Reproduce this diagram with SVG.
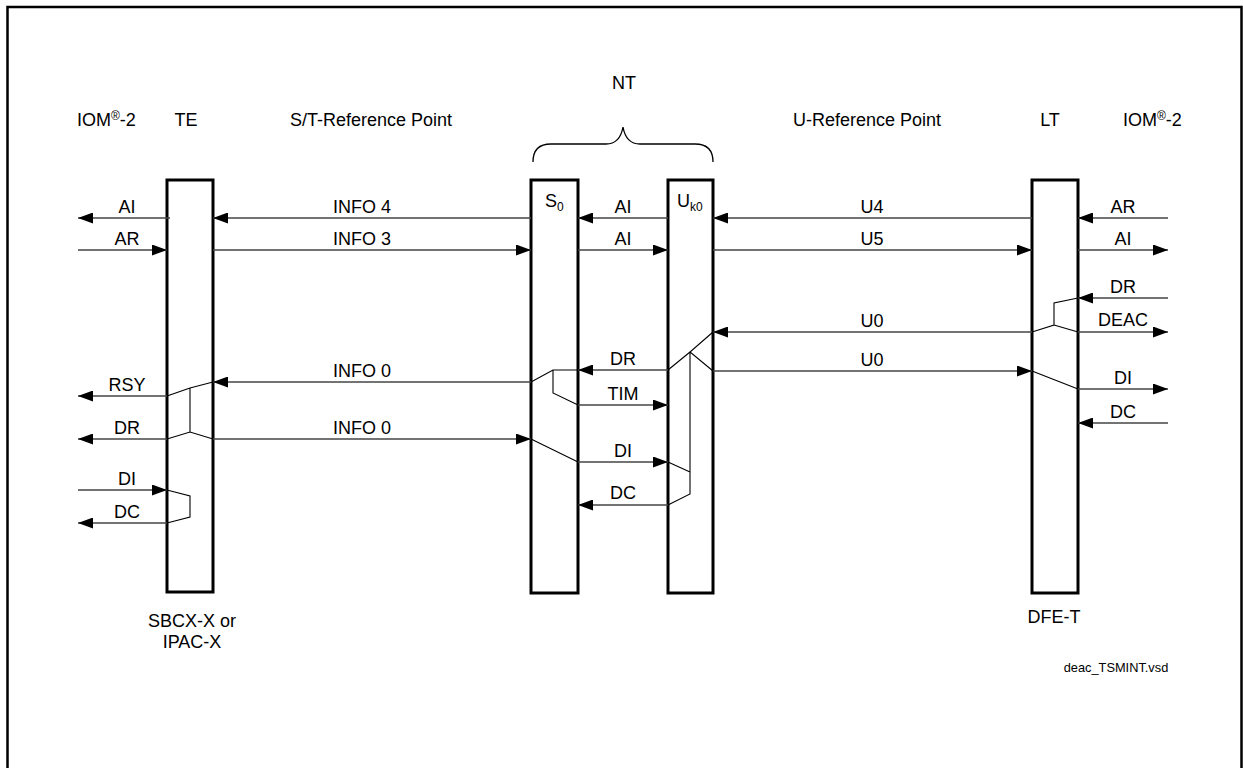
<svg xmlns="http://www.w3.org/2000/svg" width="1243" height="768" viewBox="0 0 1243 768">
<style>
text{font-family:"Liberation Sans",Arial,sans-serif;font-size:18px;fill:#000}
.c{text-anchor:middle}
.box{fill:#fff;stroke:#000;stroke-width:3}
.arr{fill:none;stroke:#444;stroke-width:1.6;marker-end:url(#ah)}
.thin{fill:none;stroke:#000;stroke-width:1.1}
.sub{font-size:12px}
</style>
<defs>
<marker id="ah" markerUnits="userSpaceOnUse" markerWidth="15" markerHeight="11" refX="15" refY="5.5" orient="auto">
<path d="M0,0 L15,5.5 L0,11 z" fill="#000"/>
</marker>
</defs>
<rect x="7.5" y="7" width="1234" height="800" fill="#fff" stroke="#000" stroke-width="2.5"/>
<g id="headers">
<text x="77" y="126">IOM<tspan class="sub" dy="-6">®</tspan><tspan dy="6">-2</tspan></text>
<text x="186" y="126" class="c">TE</text>
<text x="371" y="126" class="c">S/T-Reference Point</text>
<text x="624" y="89" class="c">NT</text>
<text x="867" y="126" class="c">U-Reference Point</text>
<text x="1050" y="126" class="c">LT</text>
<text x="1123" y="126">IOM<tspan class="sub" dy="-6">®</tspan><tspan dy="6">-2</tspan></text>
<path d="M533,162 Q533,144 551,144 H606 Q620,144 623,127 Q626,144 640,144 H695 Q713,144 713,162" fill="none" stroke="#000" stroke-width="1.3"/>
</g>
<g id="TE">
<rect class="box" x="167" y="180" width="46" height="412"/>
<text x="192" y="627" class="c">SBCX-X or</text>
<text x="192" y="648" class="c">IPAC-X</text>
</g>
<g id="S0">
<rect class="box" x="531" y="180" width="47" height="413"/>
<text x="545" y="207">S<tspan class="sub" dy="4">0</tspan></text>
</g>
<g id="Uk0">
<rect class="box" x="668" y="180" width="45" height="413"/>
<text x="677" y="207">U<tspan class="sub" dy="4">k0</tspan></text>
</g>
<g id="LT">
<rect class="box" x="1032" y="180" width="46" height="413"/>
<text x="1054" y="623" class="c">DFE-T</text>
</g>
<g id="connectors">
<path class="arr" d="M170,218 H78"/>
<path class="arr" d="M78,250 H167"/>
<path class="arr" d="M167,396 H78"/>
<path class="arr" d="M167,439 H78"/>
<path class="arr" d="M78,490 H167"/>
<path class="arr" d="M167,523 H78"/>
<path class="arr" d="M531,218 H213"/>
<path class="arr" d="M213,250 H531"/>
<path class="arr" d="M531,382 H213"/>
<path class="arr" d="M213,439 H531"/>
<path class="arr" d="M668,218 H578"/>
<path class="arr" d="M578,250 H668"/>
<path class="arr" d="M668,370 H578"/>
<path class="arr" d="M578,405 H668"/>
<path class="arr" d="M578,462 H668"/>
<path class="arr" d="M668,505 H578"/>
<path class="arr" d="M1032,218 H713"/>
<path class="arr" d="M713,250 H1032"/>
<path class="arr" d="M1032,332 H713"/>
<path class="arr" d="M713,371 H1032"/>
<path class="arr" d="M1168,218 H1078"/>
<path class="arr" d="M1078,250 H1168"/>
<path class="arr" d="M1168,298 H1078"/>
<path class="arr" d="M1078,332 H1168"/>
<path class="arr" d="M1078,389 H1168"/>
<path class="arr" d="M1168,423 H1078"/>
<path class="thin" d="M213,382 L190,388 L167,396 M190,388 V432 M167,439 L190,432 L213,439 M167,490 L190,496 V517 L167,523"/>
<path class="thin" d="M578,370 H553 L531,382 M553,370 V393 L578,405 M531,439 L578,462"/>
<path class="thin" d="M713,332 L690,352 L713,371 M690,352 L668,370 M690,352 V494 L668,505 M668,462 L690,472"/>
<path class="thin" d="M1078,298 L1054,303 V325 L1032,332 M1054,325 L1078,332 M1032,371 L1078,389"/>
</g>
<g id="labels">
<text x="127" y="213" class="c">AI</text>
<text x="127" y="245" class="c">AR</text>
<text x="127" y="391" class="c">RSY</text>
<text x="127" y="434" class="c">DR</text>
<text x="127" y="485" class="c">DI</text>
<text x="127" y="518" class="c">DC</text>
<text x="362" y="213" class="c">INFO 4</text>
<text x="362" y="245" class="c">INFO 3</text>
<text x="362" y="377" class="c">INFO 0</text>
<text x="362" y="434" class="c">INFO 0</text>
<text x="623" y="213" class="c">AI</text>
<text x="623" y="245" class="c">AI</text>
<text x="623" y="365" class="c">DR</text>
<text x="623" y="400" class="c">TIM</text>
<text x="623" y="457" class="c">DI</text>
<text x="623" y="499" class="c">DC</text>
<text x="872" y="213" class="c">U4</text>
<text x="872" y="245" class="c">U5</text>
<text x="872" y="327" class="c">U0</text>
<text x="872" y="366" class="c">U0</text>
<text x="1123" y="213" class="c">AR</text>
<text x="1123" y="245" class="c">AI</text>
<text x="1123" y="293" class="c">DR</text>
<text x="1123" y="326" class="c">DEAC</text>
<text x="1123" y="384" class="c">DI</text>
<text x="1123" y="418" class="c">DC</text>
<text x="1116" y="672" class="c" style="font-size:12.8px">deac_TSMINT.vsd</text>
</g>
</svg>
